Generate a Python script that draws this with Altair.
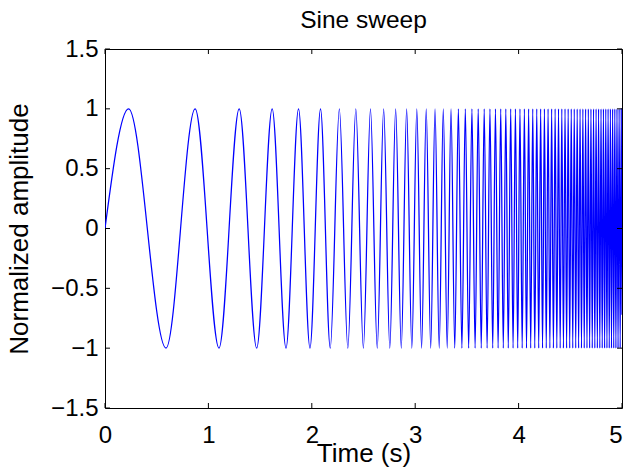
import altair as alt
import pandas as pd

# Times (s) of the successive extrema of the sweep
# (first extremum is a peak, then they alternate peak / trough).
extremum_times = [
    0.2283, 0.5901, 0.8718, 1.1024, 1.2978, 1.4672, 1.6167, 1.7506, 1.8717, 1.9824,
    2.0843, 2.1786, 2.2664, 2.3486, 2.4258, 2.4987, 2.5676, 2.6329, 2.6951, 2.7544,
    2.8111, 2.8654, 2.9174, 2.9674, 3.0156, 3.0619, 3.1067, 3.1500, 3.1918, 3.2323,
    3.2716, 3.3096, 3.3466, 3.3826, 3.4175, 3.4516, 3.4847, 3.5170, 3.5486, 3.5793,
    3.6094, 3.6387, 3.6674, 3.6954, 3.7229, 3.7498, 3.7761, 3.8019, 3.8272, 3.8520,
    3.8763, 3.9001, 3.9236, 3.9466, 3.9692, 3.9914, 4.0132, 4.0347, 4.0558, 4.0765,
    4.0970, 4.1171, 4.1369, 4.1564, 4.1756, 4.1945, 4.2132, 4.2315, 4.2496, 4.2675,
    4.2851, 4.3025, 4.3196, 4.3366, 4.3533, 4.3697, 4.3860, 4.4021, 4.4179, 4.4336,
    4.4491, 4.4644, 4.4795, 4.4944, 4.5092, 4.5238, 4.5382, 4.5525, 4.5666, 4.5806,
    4.5944, 4.6081, 4.6216, 4.6349, 4.6482, 4.6613, 4.6743, 4.6871, 4.6998, 4.7124,
    4.7248, 4.7372, 4.7494, 4.7615, 4.7735, 4.7854, 4.7972, 4.8088, 4.8204, 4.8319,
    4.8432, 4.8545, 4.8656, 4.8767, 4.8877, 4.8985, 4.9093, 4.9200, 4.9306, 4.9411,
    4.9515, 4.9619, 4.9721, 4.9823, 4.9924,
]
peak_value = 1.0
trough_value = -1.0
start_point = [0.0, 0.0]
end_point = [5.0, -0.72]

x_ticks = [0, 1, 2, 3, 4, 5]
y_ticks = [-1.5, -1.0, -0.5, 0.0, 0.5, 1.0, 1.5]
chart_title = ["Sine sweep"]

times = [start_point[0]] + extremum_times + [end_point[0]]
values = ([start_point[1]]
          + [peak_value if i % 2 == 0 else trough_value for i in range(len(extremum_times))]
          + [end_point[1]])
sig = pd.DataFrame({"t": times, "y": values})
xt = pd.DataFrame({"v": x_ticks})
yt = pd.DataFrame({"v": y_ticks})
tt = pd.DataFrame({"label": chart_title})

W, H = 517, 359
FONT = "Liberation Sans"
FS = 24        # tick labels
FT = 26        # axis titles
FTITLE = 24.5  # chart title
TL = 5

xscale = alt.Scale(domain=[0, 5], nice=False, zero=False)
yscale = alt.Scale(domain=[-1.5, 1.5], nice=False, zero=False)

line = alt.Chart(sig).mark_line(
    color="#0000ff", strokeWidth=1.25, interpolate="monotone", clip=True
).encode(
    x=alt.X("t:Q", scale=xscale, title="Time (s)",
            axis=alt.Axis(values=x_ticks, format="~g", domain=False, ticks=False, grid=False,
                          labelPadding=15, labelFlush=False,
                          labelAlign={"condition": {"test": "datum.value == 5", "value": "right"},
                                      "value": "center"},
                          titleBaseline="alphabetic", titleY=53)),
    y=alt.Y("y:Q", scale=yscale, title="Normalized amplitude",
            axis=alt.Axis(values=y_ticks, format="~g", domain=False, ticks=False, grid=False,
                          labelPadding=7, titlePadding=18)),
)

xb = alt.Chart(xt).mark_rule(color="black", strokeWidth=1).encode(
    x=alt.X("v:Q", scale=xscale), y=alt.value(H), y2=alt.value(H - TL))
xtop = alt.Chart(xt).mark_rule(color="black", strokeWidth=1).encode(
    x=alt.X("v:Q", scale=xscale), y=alt.value(0), y2=alt.value(TL))
yl = alt.Chart(yt).mark_rule(color="black", strokeWidth=1).encode(
    y=alt.Y("v:Q", scale=yscale), x=alt.value(0), x2=alt.value(TL))
yr = alt.Chart(yt).mark_rule(color="black", strokeWidth=1).encode(
    y=alt.Y("v:Q", scale=yscale), x=alt.value(W), x2=alt.value(W - TL))

title = alt.Chart(tt).mark_text(
    font=FONT, fontSize=FTITLE, color="black", align="center", baseline="alphabetic"
).encode(text="label:N", x=alt.value(W / 2), y=alt.value(-20.7))

chart = alt.layer(line, xb, xtop, yl, yr, title).properties(
    width=W, height=H,
    autosize=alt.AutoSizeParams(type="none"),
    padding={"left": 97, "top": 41, "right": 1, "bottom": 59},
    background="white",
).configure_view(
    stroke="black", strokeWidth=1
).configure_axis(
    labelFont=FONT, labelFontSize=FS, labelColor="black",
    titleFont=FONT, titleFontSize=FT, titleColor="black", titleFontWeight="normal",
)

chart.save("out.html", embed_options={"renderer": "svg", "actions": False})
